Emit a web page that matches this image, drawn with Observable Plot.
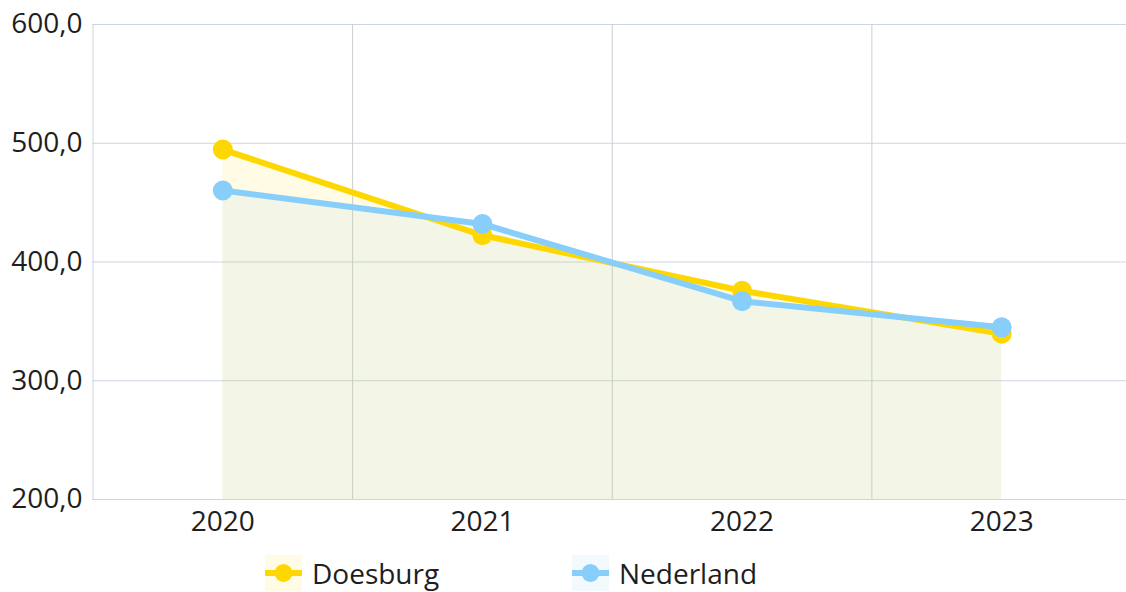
<!DOCTYPE html>
<html>
<head>
<meta charset="utf-8">
<script src="https://cdn.jsdelivr.net/npm/d3@7"></script>
<script src="https://cdn.jsdelivr.net/npm/@observablehq/plot@0.6"></script>
<style>
  html, body { margin: 0; padding: 0; background: #fff; }
  body { width: 1126px; height: 592px; overflow: hidden; font-family: "Open Sans", "Noto Sans", sans-serif; color: #1e1e1e; }
  #legend { position: relative; height: 47px; }
  .item { position: absolute; top: 10px; display: flex; align-items: center; font-size: 28px; line-height: 36px; }
  .item svg { display: block; margin-right: 10px; }
</style>
</head>
<body>
<div id="chart"></div>
<div id="legend"></div>
<script>
const years = [2020, 2021, 2022, 2023];
const doesburg = [494.7, 422.5, 375.8, 339.6];
const nederland = [460.2, 432.0, 367.0, 345.0];
const seriesNames = ["Doesburg", "Nederland"];
const seriesColors = ["#ffd700", "#87cefa"];
const yTicks = [200, 300, 400, 500, 600];
const yDomain = [200, 600];
const xDomain = [2019.5, 2023.5];

const seriesValues = [doesburg, nederland];
const data = seriesNames.map((name, i) => years.map((year, j) => ({ series: name, year, value: seriesValues[i][j], color: seriesColors[i] })));
const boundaries = d3.pairs(years).map(([a, b]) => (a + b) / 2);
const fmt = d => d.toFixed(1).replace(".", ",");

const marks = [
  Plot.ruleY(yTicks, { stroke: "#cdd5e0", strokeWidth: 1 }),
  Plot.ruleX(boundaries, { stroke: "#c8ced4", strokeWidth: 1 }),
  Plot.ruleX([xDomain[0]], { stroke: "#cdd5e0", strokeWidth: 1 })
];
data.forEach(d => {
  marks.push(Plot.areaY(d, { x: "year", y1: yDomain[0], y2: "value", fill: d[0].color, fillOpacity: 0.1 }));
});
data.forEach(d => {
  marks.push(Plot.line(d, { x: "year", y: "value", stroke: d[0].color, strokeWidth: 6 }));
  marks.push(Plot.dot(d, { x: "year", y: "value", fill: d[0].color, r: 10 }));
});
marks.push(Plot.axisY({ ticks: yTicks, tickFormat: fmt, tickSize: 0, tickPadding: 10, fontSize: 28, label: null }));
marks.push(Plot.axisX({ ticks: years, tickFormat: d => String(d), tickSize: 0, tickPadding: 12, fontSize: 28, label: null }));

const chart = Plot.plot({
  width: 1126,
  height: 545,
  marginTop: 24,
  marginBottom: 46,
  marginLeft: 92,
  marginRight: 0,
  style: { fontFamily: "'Open Sans', 'Noto Sans', sans-serif", color: "#1e1e1e", background: "#fff", overflow: "visible" },
  x: { type: "linear", domain: xDomain, range: [92.5, 1131], label: null },
  y: { domain: yDomain, label: null },
  marks
});
document.getElementById("chart").appendChild(chart);

const legend = document.getElementById("legend");
const lefts = [265, 572];
seriesNames.forEach((name, i) => {
  const item = document.createElement("div");
  item.className = "item";
  item.style.left = lefts[i] + "px";
  const c = seriesColors[i];
  item.innerHTML = `<svg width="37" height="36"><rect width="37" height="36" fill="${c}" fill-opacity="0.1"></rect><line x1="0" x2="37" y1="18" y2="18" stroke="${c}" stroke-width="6"></line><circle cx="18.5" cy="18" r="9" fill="${c}"></circle></svg><span>${name}</span>`;
  legend.appendChild(item);
});
</script>
</body>
</html>
